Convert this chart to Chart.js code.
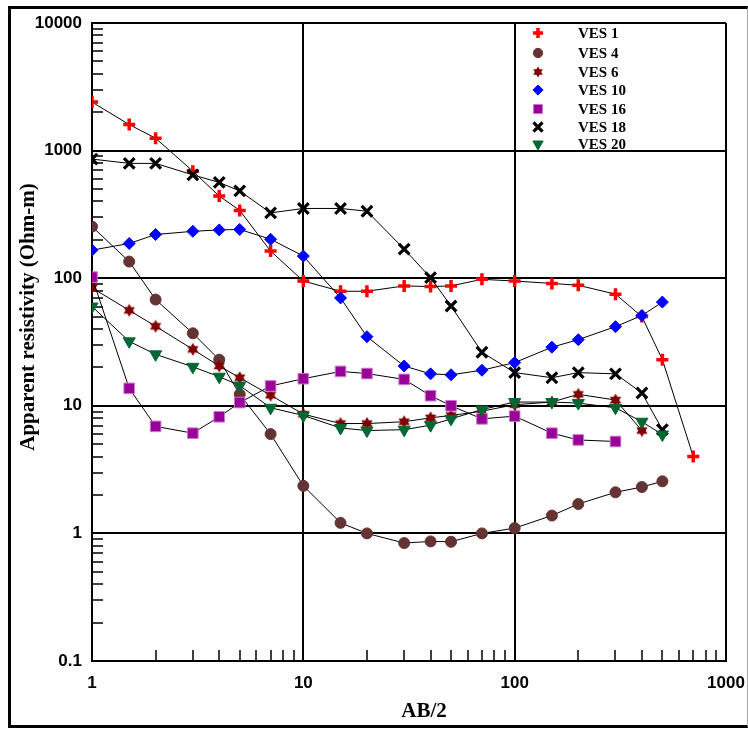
<!DOCTYPE html>
<html>
<head>
<meta charset="utf-8">
<title>Apparent resistivity vs AB/2</title>
<script src="https://cdn.jsdelivr.net/npm/chart.js@4.4.1/dist/chart.umd.min.js"></script>
<style>
    html, body { margin: 0; padding: 0; background: #fff; }
    #wrap { position: relative; width: 748px; height: 729px; }
    #frame {
        position: absolute; left: 8px; top: 6px; width: 736px; height: 716px;
        border-top: 3px solid #000; border-left: 3px solid #000;
        border-bottom: 3px solid #000; border-right: 1px solid #aaa;
    }
    #chart { position: absolute; left: 0; top: 0; }
</style>
</head>
<body>
<div id="wrap">
    <div id="frame"></div>
    <canvas id="chart" width="748" height="729"></canvas>
</div>
<script>
// AB/2 spacings (m)
const abHalf = [1, 1.5, 2, 3, 4, 5, 7, 10, 15, 20, 30, 40, 50, 70, 100, 150, 200, 300, 400, 500, 700];

// Apparent resistivity (Ohm-m) per sounding
const ves1  = [2400, 1600, 1250, 690, 440, 340, 163, 95, 79, 79, 87, 86, 87, 98, 95, 91, 88, 75, 50, 23, 4.0];
const ves4  = [254, 135, 68, 37, 23, 12.3, 6.0, 2.36, 1.21, 1.0, 0.84, 0.865, 0.86, 1.0, 1.1, 1.38, 1.7, 2.1, 2.31, 2.56];
const ves6  = [84, 56, 42, 27.7, 20.5, 16.6, 12.1, 8.6, 7.26, 7.26, 7.5, 8.05, 8.4, 9.07, 10.2, 10.7, 12.3, 11.1, 6.4];
const ves10 = [166, 187, 220, 233, 239, 241, 202, 149, 70, 34.8, 20.5, 17.8, 17.5, 19, 21.8, 28.8, 33, 41.7, 51, 65];
const ves16 = [102, 13.7, 6.9, 6.1, 8.2, 10.6, 14.3, 16.3, 18.6, 17.9, 16.1, 12.0, 10.0, 7.9, 8.3, 6.1, 5.4, 5.25];
const ves18 = [858, 794, 794, 645, 563, 483, 325, 352, 352, 335, 169, 101, 60.5, 26.3, 18.2, 16.6, 18.2, 17.8, 12.6, 6.5];
const ves20 = [60, 32, 25.3, 20.2, 16.9, 14.4, 9.65, 8.4, 6.7, 6.4, 6.5, 7.05, 7.9, 9.35, 10.7, 10.7, 10.5, 9.65, 7.5, 5.95];

const seriesNames = ['VES 1', 'VES 4', 'VES 6', 'VES 10', 'VES 16', 'VES 18', 'VES 20'];

// Axis labels
const xTickLabels = ['1', '10', '100', '1000'];
const yTickLabels = ['0.1', '1', '10', '100', '1000', '10000'];
const xTitle = 'AB/2';
const yTitle = 'Apparent resistivity (Ohm-m)';

const tickFont = { family: '"Liberation Sans", Arial, sans-serif', size: 17, weight: 'bold' };
const serif = '"Liberation Serif", "Times New Roman", serif';

function isDecade(v) {
    const l = Math.log10(v);
    return Math.abs(l - Math.round(l)) < 1e-6;
}

// decades plus 2..9 in between
function logTicks(labels) {
    const dec = labels.map(Number);
    const out = [];
    for (let i = 0; i < dec.length - 1; i++) {
        for (let k = 1; k < 10; k++) out.push({ value: k * dec[i] });
    }
    out.push({ value: dec[dec.length - 1] });
    return out;
}

function labelFor(labels, v) {
    const hit = labels.find(l => Math.abs(Number(l) - v) < 1e-9 * Math.max(1, v));
    return hit || '';
}

function toPoints(vals) {
    return vals.map((v, i) => ({ x: abHalf[i], y: v }));
}

// six-pointed star marker
function makeHexagram(size, color) {
    const c = document.createElement('canvas');
    c.width = c.height = size;
    const g = c.getContext('2d');
    const r = size / 2 - 0.5, cx = size / 2, cy = size / 2;
    g.fillStyle = color;
    [-Math.PI / 2, Math.PI / 2].forEach(off => {
        g.beginPath();
        for (let i = 0; i < 3; i++) {
            const a = off + i * 2 * Math.PI / 3;
            const px = cx + r * Math.cos(a), py = cy + r * Math.sin(a);
            if (i) g.lineTo(px, py); else g.moveTo(px, py);
        }
        g.closePath();
        g.fill();
    });
    return c;
}

const star = makeHexagram(14, '#800000');
const starSmall = makeHexagram(12, '#800000');

const markers = [
    { style: 'cross',    radius: 6,   rot: 0,   fill: '#ff0000', stroke: '#ff0000', bw: 3.5 },
    { style: 'circle',   radius: 5.5, rot: 0,   fill: '#643434', stroke: '#643434', bw: 1 },
    { style: star,       radius: 6,   rot: 0,   fill: '#800000', stroke: '#800000', bw: 1, small: starSmall },
    { style: 'rectRot',  radius: 6,   rot: 0,   fill: '#0000ff', stroke: '#0000ff', bw: 1 },
    { style: 'rect',     radius: 7.5, rot: 0,   fill: '#990099', stroke: '#cc77cc', bw: 1 },
    { style: 'crossRot', radius: 7.5, rot: 0,   fill: '#000000', stroke: '#000000', bw: 3.2 },
    { style: 'triangle', radius: 7,   rot: 180, fill: '#006633', stroke: '#006633', bw: 1 }
];

const values = [ves1, ves4, ves6, ves10, ves16, ves18, ves20];

const datasets = values.map((vals, i) => ({
    label: seriesNames[i],
    data: toPoints(vals),
    showLine: true,
    borderColor: '#000',
    borderWidth: 1,
    tension: 0,
    fill: false,
    pointStyle: markers[i].style,
    pointRadius: markers[i].radius,
    pointRotation: markers[i].rot,
    pointBackgroundColor: markers[i].fill,
    pointBorderColor: markers[i].stroke,
    pointBorderWidth: markers[i].bw,
    order: values.length - i
}));

// short inner ticks for 2..9 on left and bottom axes
const innerTicks = {
    id: 'innerTicks',
    beforeDatasetsDraw(chart) {
        const { ctx, chartArea: a, scales: { x, y } } = chart;
        ctx.save();
        ctx.strokeStyle = '#000';
        ctx.lineWidth = 1.5;
        ctx.beginPath();
        y.ticks.forEach(t => {
            if (isDecade(t.value)) return;
            const py = Math.round(y.getPixelForValue(t.value));
            ctx.moveTo(a.left, py);
            ctx.lineTo(a.left + 11, py);
        });
        x.ticks.forEach(t => {
            if (isDecade(t.value)) return;
            const px = Math.round(x.getPixelForValue(t.value));
            ctx.moveTo(px, a.bottom);
            ctx.lineTo(px, a.bottom - 11);
        });
        ctx.stroke();
        ctx.restore();
    }
};

// legend inside the plot + axis titles
const legendRows = [33, 53, 72, 90, 109, 127, 144];
const decorations = {
    id: 'decorations',
    beforeDraw(chart) {
        const ctx = chart.ctx;
        ctx.save();
        chart.data.datasets.forEach((ds, i) => {
            const m = markers[i];
            const y = legendRows[i];
            ctx.fillStyle = m.fill;
            ctx.strokeStyle = m.stroke;
            ctx.lineWidth = m.bw;
            const st = m.small || m.style;
            Chart.helpers.drawPoint(ctx, { pointStyle: st, radius: m.radius * 0.85, rotation: m.rot, borderWidth: m.bw }, 538, y);
            ctx.fillStyle = '#000';
            ctx.font = 'bold 15px ' + serif;
            ctx.textAlign = 'left';
            ctx.textBaseline = 'middle';
            ctx.fillText(ds.label, 578, y + 1.5);
        });
        ctx.restore();
    },
    afterDraw(chart) {
        const ctx = chart.ctx;
        ctx.save();
        ctx.fillStyle = '#000';
        ctx.font = 'bold 21px ' + serif;
        ctx.textAlign = 'center';
        ctx.textBaseline = 'middle';
        ctx.fillText(xTitle, 424, 712);
        ctx.translate(29, 317);
        ctx.rotate(-Math.PI / 2);
        ctx.fillText(yTitle, 0, 0);
        ctx.restore();
    }
};

const gridColor = c => (c.tick && isDecade(c.tick.value)) ? '#000' : 'rgba(0,0,0,0)';

new Chart(document.getElementById('chart'), {
    type: 'scatter',
    data: { datasets },
    options: {
        responsive: false,
        devicePixelRatio: 1,
        animation: false,
        events: [],
        layout: { padding: { left: 12, top: 23, right: 22, bottom: 18 } },
        plugins: {
            legend: { display: false },
            tooltip: { enabled: false }
        },
        scales: {
            x: {
                type: 'logarithmic',
                min: 1,
                max: 1000,
                afterBuildTicks: s => { s.ticks = logTicks(xTickLabels); },
                afterFit: s => { s.height = 50; s.paddingLeft = 0; s.paddingRight = 0; },
                grid: { color: gridColor, lineWidth: 2, drawTicks: false },
                border: { color: '#000', width: 2 },
                ticks: {
                    autoSkip: false, maxRotation: 0, padding: 12, color: '#000', font: tickFont,
                    callback: v => labelFor(xTickLabels, v)
                }
            },
            y: {
                type: 'logarithmic',
                min: 0.1,
                max: 10000,
                afterBuildTicks: s => { s.ticks = logTicks(yTickLabels); },
                afterFit: s => { s.width = 80; s.paddingTop = 0; s.paddingBottom = 0; },
                grid: { color: gridColor, lineWidth: 2, drawTicks: false },
                border: { color: '#000', width: 2 },
                ticks: {
                    autoSkip: false, padding: 10, color: '#000', font: tickFont,
                    callback: v => labelFor(yTickLabels, v)
                }
            }
        }
    },
    plugins: [innerTicks, decorations]
});
</script>
</body>
</html>
